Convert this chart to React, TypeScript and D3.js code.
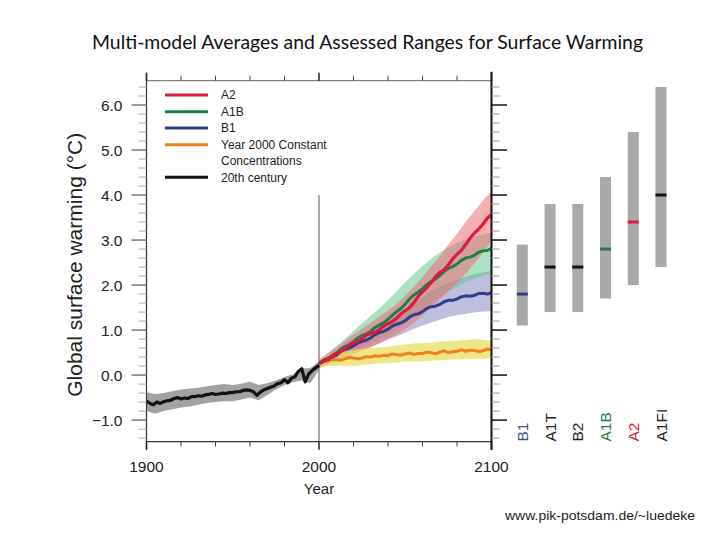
import React from 'react';
import * as d3 from 'd3';

// ---------- DATA ----------
const centuryYears = [1900,1902,1904,1906,1908,1910,1912,1914,1916,1918,1920,1922,1924,1926,1928,1930,1932,1934,1936,1938,1940,1942,1944,1946,1948,1950,1952,1954,1956,1958,1960,1962,1964,1966,1968,1970,1972,1974,1976,1978,1980,1982,1984,1986,1988,1990,1992,1994,1996,1998,2000];
const centuryMean = [-0.58,-0.63,-0.66,-0.60,-0.63,-0.59,-0.57,-0.56,-0.52,-0.50,-0.53,-0.51,-0.52,-0.48,-0.48,-0.46,-0.47,-0.44,-0.43,-0.41,-0.43,-0.42,-0.40,-0.41,-0.39,-0.39,-0.37,-0.37,-0.34,-0.33,-0.34,-0.37,-0.45,-0.38,-0.33,-0.30,-0.27,-0.24,-0.19,-0.17,-0.10,-0.17,-0.07,-0.04,0.08,0.14,-0.15,0.02,0.10,0.16,0.22];

const centuryBandYears = [1900,1905,1910,1915,1920,1925,1930,1935,1940,1945,1950,1955,1960,1965,1970,1975,1980,1985,1990,1995,2000];
const centuryBandHi = [-0.38,-0.42,-0.40,-0.36,-0.32,-0.30,-0.28,-0.25,-0.22,-0.20,-0.22,-0.19,-0.15,-0.22,-0.18,-0.12,-0.04,0.02,0.14,0.16,0.30];
const centuryBandLo = [-0.80,-0.86,-0.80,-0.76,-0.72,-0.70,-0.66,-0.62,-0.60,-0.58,-0.58,-0.54,-0.50,-0.56,-0.44,-0.32,-0.22,-0.16,-0.12,-0.18,0.12];

// model ranges (5-year resolution)
const projYears = [2000,2005,2010,2015,2020,2025,2030,2035,2040,2045,2050,2055,2060,2065,2070,2075,2080,2085,2090,2095,2100];
const a2Lo = [0.15,0.22,0.30,0.38,0.46,0.55,0.62,0.70,0.80,0.90,1.02,1.16,1.32,1.50,1.68,1.86,2.05,2.25,2.48,2.72,2.98];
const a2Hi = [0.35,0.48,0.62,0.76,0.90,1.03,1.17,1.30,1.44,1.58,1.76,1.96,2.18,2.42,2.64,2.90,3.14,3.40,3.64,3.88,4.08];
const a1bLo = [0.17,0.27,0.36,0.46,0.55,0.64,0.72,0.80,0.90,1.00,1.14,1.30,1.46,1.60,1.74,1.86,1.97,2.06,2.14,2.20,2.26];
const a1bHi = [0.33,0.48,0.64,0.80,0.98,1.15,1.32,1.48,1.66,1.86,2.06,2.25,2.42,2.58,2.72,2.84,2.94,3.02,3.08,3.12,3.16];
const b1Lo = [0.18,0.24,0.32,0.40,0.48,0.55,0.63,0.71,0.79,0.86,0.94,1.03,1.10,1.17,1.23,1.29,1.33,1.36,1.39,1.41,1.42];
const b1Hi = [0.32,0.42,0.56,0.70,0.82,0.92,1.04,1.16,1.26,1.36,1.48,1.62,1.74,1.86,1.96,2.04,2.12,2.18,2.24,2.28,2.32];
const constLo = [0.17,0.20,0.20,0.20,0.20,0.22,0.24,0.26,0.27,0.28,0.30,0.30,0.31,0.32,0.33,0.34,0.35,0.35,0.36,0.37,0.38];
const constHi = [0.33,0.44,0.50,0.52,0.56,0.58,0.60,0.62,0.63,0.66,0.68,0.70,0.71,0.72,0.74,0.75,0.76,0.78,0.80,0.78,0.76];

// multi-model means (2.5-year resolution)
const meanYears = [2000,2002.5,2005,2007.5,2010,2012.5,2015,2017.5,2020,2022.5,2025,2027.5,2030,2032.5,2035,2037.5,2040,2042.5,2045,2047.5,2050,2052.5,2055,2057.5,2060,2062.5,2065,2067.5,2070,2072.5,2075,2077.5,2080,2082.5,2085,2087.5,2090,2092.5,2095,2097.5,2100];
const a2Mean = [0.25,0.32,0.35,0.43,0.48,0.52,0.59,0.67,0.72,0.75,0.81,0.89,0.93,0.95,1.01,1.09,1.14,1.19,1.26,1.36,1.43,1.50,1.61,1.75,1.85,1.94,2.05,2.18,2.28,2.34,2.45,2.58,2.68,2.77,2.90,3.04,3.15,3.24,3.35,3.48,3.57];
const a1bMean = [0.25,0.33,0.38,0.41,0.48,0.57,0.63,0.67,0.74,0.83,0.88,0.91,0.97,1.06,1.11,1.16,1.24,1.33,1.41,1.48,1.58,1.69,1.78,1.84,1.92,2.01,2.08,2.13,2.21,2.30,2.37,2.41,2.47,2.55,2.60,2.62,2.66,2.73,2.76,2.77,2.81];
const b1Mean = [0.25,0.31,0.34,0.40,0.44,0.52,0.57,0.60,0.65,0.71,0.75,0.78,0.83,0.90,0.95,0.97,1.02,1.09,1.13,1.16,1.21,1.29,1.34,1.36,1.41,1.48,1.52,1.53,1.57,1.63,1.66,1.66,1.69,1.74,1.76,1.75,1.77,1.81,1.82,1.80,1.83];
const constMean = [0.25,0.29,0.31,0.35,0.34,0.33,0.36,0.39,0.38,0.36,0.38,0.41,0.40,0.43,0.42,0.44,0.43,0.47,0.45,0.44,0.47,0.49,0.46,0.48,0.48,0.51,0.50,0.47,0.51,0.54,0.50,0.52,0.53,0.56,0.53,0.55,0.55,0.52,0.54,0.58,0.56];

const scenarios = ['B1','A1T','B2','A1B','A2','A1FI'];
const bestEstimate = [1.8,2.4,2.4,2.8,3.4,4.0];
const likelyLo = [1.1,1.4,1.4,1.7,2.0,2.4];
const likelyHi = [2.9,3.8,3.8,4.4,5.4,6.4];

const legendLabels = ['A2','A1B','B1','Year 2000 Constant','20th century'];

const yTickValues = [-1,0,1,2,3,4,5,6];
const xTickLabels = [1900,2000,2100];

// ---------- STYLE ----------
const C = {
  red: '#dc1a3e', green: '#1b7f48', blue: '#2f3e8c', orange: '#f07f1c', black: '#111111',
  redBand: 'rgba(240,110,118,0.55)', greenBand: 'rgba(90,195,135,0.5)', blueBand: 'rgba(125,125,190,0.5)',
  yellowBand: 'rgba(232,222,95,0.75)', greyBand: '#a2a2a2', bar: '#a9a9a9',
};
const scenarioColor: Record<string,string> = { B1: C.blue, A1T: C.black, B2: C.black, A1B: C.green, A2: C.red, A1FI: C.black };
const labelColor: Record<string,string> = { B1: '#3b4f8c', A1T: '#222', B2: '#222', A1B: '#1f7a4f', A2: '#d7193f', A1FI: '#222' };
const legendColors = [C.red, C.green, C.blue, C.orange, C.black];

const FONT = 'Liberation Sans, Arial, sans-serif';

export default function App() {
  const x = d3.scaleLinear().domain([1900, 2100]).range([146.5, 491.5]);
  const y = d3.scaleLinear().domain([-1.48, 6.54]).range([441.7, 80.7]);
  const top = y(6.54), bottom = y(-1.48), left = x(1900), right = x(2100);

  const bandPath = (years: number[], lo: number[], hi: number[]) =>
    d3.area<number>().x((_, i) => x(years[i])).y0((_, i) => y(lo[i])).y1((_, i) => y(hi[i]))(years) as string;
  const linePath = (years: number[], vals: number[]) =>
    d3.line<number>().x((_, i) => x(years[i])).y((_, i) => y(vals[i]))(years) as string;

  const minorY = y.ticks(40).filter(v => Math.abs(v - Math.round(v)) > 1e-6);
  const minorX = x.ticks(10).filter(v => v % 100 !== 0);
  const fmt = d3.format('.1f');

  const bx = d3.scalePoint<string>().domain(scenarios).range([522.3, 661]);
  const barW = 11;

  const legendY = [95, 111.7, 128, 144.7, 177.3];

  return (
    <svg width={720} height={540} style={{ position: 'absolute', left: 0, top: 0, background: '#fff' }} fontFamily={FONT}>
      <rect width={720} height={540} fill="#fff" />
      {/* Title */}
      <text x={92} y={49} fontFamily="Lato, 'Open Sans', sans-serif" fontSize={20} fill="#111" textLength={551} lengthAdjust="spacingAndGlyphs">
        Multi-model Averages and Assessed Ranges for Surface Warming
      </text>

      {/* Bands */}
      <path d={bandPath(centuryBandYears, centuryBandLo, centuryBandHi)} fill={C.greyBand} />
      <path d={bandPath(projYears, b1Lo, b1Hi)} fill={C.blueBand} />
      <path d={bandPath(projYears, a1bLo, a1bHi)} fill={C.greenBand} />
      <path d={bandPath(projYears, a2Lo, a2Hi)} fill={C.redBand} />
      <path d={bandPath(projYears, constLo, constHi)} fill={C.yellowBand} />

      {/* 2000 line */}
      <line x1={x(2000)} x2={x(2000)} y1={y(4)} y2={bottom} stroke="#555" strokeWidth={1} />

      {/* Lines */}
      <path d={linePath(meanYears, constMean)} fill="none" stroke={C.orange} strokeWidth={3} strokeLinejoin="round" />
      <path d={linePath(meanYears, b1Mean)} fill="none" stroke={C.blue} strokeWidth={3} strokeLinejoin="round" />
      <path d={linePath(meanYears, a1bMean)} fill="none" stroke={C.green} strokeWidth={3} strokeLinejoin="round" />
      <path d={linePath(meanYears, a2Mean)} fill="none" stroke={C.red} strokeWidth={3.2} strokeLinejoin="round" />
      <path d={linePath(centuryYears, centuryMean)} fill="none" stroke={C.black} strokeWidth={3.2} strokeLinejoin="round" />

      {/* Frame */}
      <line x1={left} x2={right} y1={top} y2={top} stroke="#666" strokeWidth={1} />
      <line x1={left} x2={right} y1={bottom} y2={bottom} stroke="#333" strokeWidth={1.2} />
      <line x1={left} x2={left} y1={top - 8} y2={bottom + 8} stroke="#333" strokeWidth={1.2} />
      <line x1={right} x2={right} y1={top - 9} y2={bottom + 8} stroke="#111" strokeWidth={2} />

      {/* X ticks */}
      {xTickLabels.map(v => (
        <g key={'xt' + v}>
          <line x1={x(v)} x2={x(v)} y1={top - 8} y2={top} stroke="#222" strokeWidth={1.5} />
          <line x1={x(v)} x2={x(v)} y1={bottom} y2={bottom + 8} stroke="#222" strokeWidth={1.5} />
          <text x={x(v)} y={471.5} textAnchor="middle" fontSize={15.5} fill="#222">{v}</text>
        </g>
      ))}
      {minorX.map(v => (
        <g key={'xm' + v}>
          <line x1={x(v)} x2={x(v)} y1={top - 5} y2={top} stroke="#444" strokeWidth={1} />
          <line x1={x(v)} x2={x(v)} y1={bottom} y2={bottom + 5} stroke="#444" strokeWidth={1} />
        </g>
      ))}
      <text x={x(2000)} y={494} textAnchor="middle" fontSize={15} fill="#222">Year</text>

      {/* Y ticks */}
      {yTickValues.map(v => (
        <g key={'yt' + v}>
          <line x1={left - 15} x2={left} y1={y(v)} y2={y(v)} stroke="#777" strokeWidth={1.5} />
          <line x1={right} x2={right + 15.5} y1={y(v)} y2={y(v)} stroke="#111" strokeWidth={1.5} />
          <text x={122.5} y={y(v)} dy="0.36em" textAnchor="end" fontSize={15.5} fill="#222">{fmt(v)}</text>
        </g>
      ))}
      {minorY.map(v => (
        <g key={'ym' + v}>
          <line x1={left - 8} x2={left} y1={y(v)} y2={y(v)} stroke="#aaa" strokeWidth={1} />
          <line x1={right} x2={right + 8} y1={y(v)} y2={y(v)} stroke="#999" strokeWidth={1} />
        </g>
      ))}
      <text transform={`translate(81.5, ${y(2.45)}) rotate(-90)`} textAnchor="middle" fontSize={21} fill="#222">
        Global surface warming (°C)
      </text>

      {/* Legend */}
      {legendLabels.map((lab, i) => (
        <g key={'lg' + lab}>
          <line x1={165} x2={208} y1={legendY[i]} y2={legendY[i]} stroke={legendColors[i]} strokeWidth={3} />
          <text x={221} y={legendY[i]} dy="0.36em" fontSize={12} fill="#222">{lab}</text>
        </g>
      ))}
      <text x={221} y={160.7} dy="0.36em" fontSize={12} fill="#222">Concentrations</text>

      {/* Right panel bars */}
      {scenarios.map((s, i) => (
        <g key={'bar' + s}>
          <rect x={(bx(s) as number) - barW / 2} width={barW} y={y(likelyHi[i])} height={y(likelyLo[i]) - y(likelyHi[i])} fill={C.bar} />
          <rect x={(bx(s) as number) - barW / 2} width={barW} y={y(bestEstimate[i]) - 1.5} height={3} fill={scenarioColor[s]} />
          <text transform={`translate(${(bx(s) as number) + 5.5}, 441.5) rotate(-90)`} fontSize={15.5} fill={labelColor[s]}>{s}</text>
        </g>
      ))}

      {/* Source */}
      <text x={505} y={519.5} fontSize={13.5} fill="#222" textLength={190} lengthAdjust="spacingAndGlyphs">www.pik-potsdam.de/~luedeke</text>
    </svg>
  );
}
